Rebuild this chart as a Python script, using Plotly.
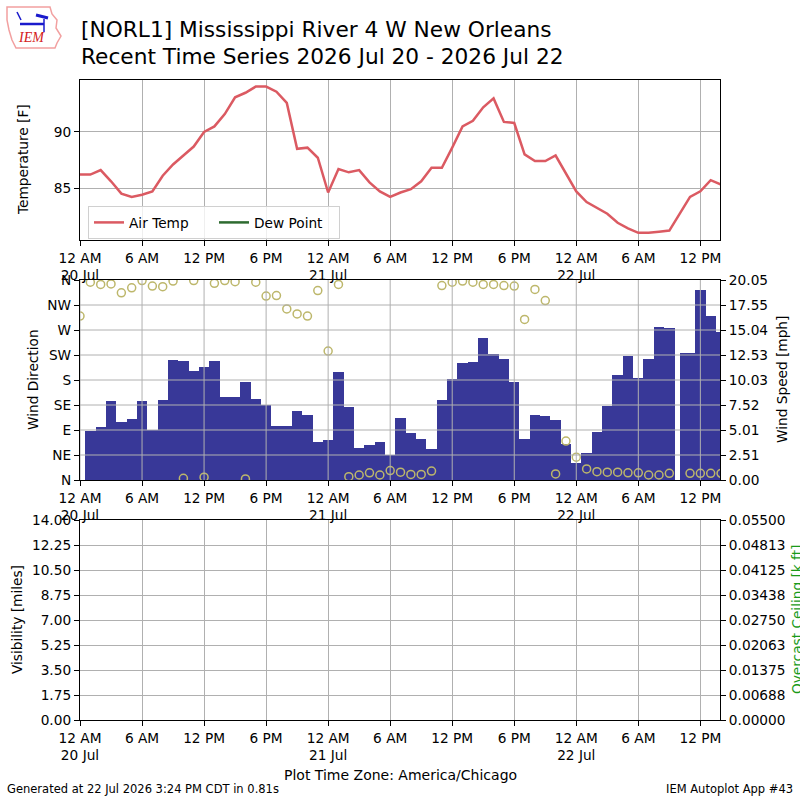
import pandas as pd
import plotly.graph_objects as go

# observation times, hours after 20 Jul 2026 00:00 (America/Chicago)
START = pd.Timestamp("2026-07-20 00:00")
END = pd.Timestamp("2026-07-22 13:54")

obs_hours = [0, 1, 2, 3, 4, 5, 6, 7, 8, 9, 10, 11, 12, 13, 14, 15, 16, 17, 18, 19,
             20, 21, 22, 23, 24, 25, 26, 27, 28, 29, 30, 31, 32, 33, 34, 35, 36, 37, 38, 39,
             40, 41, 42, 43, 44, 45, 46, 47, 48, 49, 50, 51, 52, 53, 54, 55, 56, 57, 58.5, 59,
             60, 61, 62]

air_temp = [86.2, 86.2, 86.6, 85.6, 84.5, 84.2, 84.4, 84.7, 86.1, 87.1, 87.9, 88.7, 90.0, 90.5,
            91.6, 93.1, 93.5, 94.05, 94.05, 93.6, 92.6, 88.5, 88.6, 87.7, 84.6, 86.7, 86.4, 86.6,
            85.5, 84.7, 84.2, 84.6, 84.9, 85.6, 86.8, 86.8, 88.6, 90.5, 91.0, 92.2, 93.0, 90.9,
            90.8, 88.0, 87.4, 87.4, 87.9, 86.3, 84.7, 83.75, 83.2, 82.7, 81.9, 81.4, 81.0, 81.0,
            81.1, 81.2, None, 84.2, 84.7, 85.7, 85.3]

dew_point = [None] * len(obs_hours)  # no dew point reported

wind_speed = [None, 4.95, 5.35, 7.92, 5.82, 6.12, 7.92, 4.98, 8.02, 12.03, 11.93, 10.93, 11.33,
              11.93, 8.32, 8.32, 9.83, 8.12, 7.49, 5.41, 5.41, 6.92, 6.52, 3.81, 4.01, 10.83,
              7.35, 3.21, 3.54, 3.81, 2.47, 6.25, 4.71, 4.11, 3.11, 8.02, 10.13, 11.73, 11.83,
              14.24, 12.63, 12.13, 9.83, 4.11, 6.52, 6.42, 6.02, 3.61, 1.74, 2.71, 4.85, 7.45,
              10.53, 12.43, 10.23, 12.13, 15.34, 15.24, 12.73, 12.73, 19.05, 16.44, 14.87]

wind_dir = [295, 356, 352, 353, 337, 346, 359, 349, 348, 358, 3, 359, 5, 354, 359, 357, 2, 356,
            331, 332, 308, 299, 295, 341, 232, 352, 6, 9, 13, 9, 17, 14, 10, 10, 16, 350, 356,
            358, 356, 352, 352, 350, 349, 289, 343, 323, 11, 70, 41, 20, 15, 14, 14, 13, 13, 9,
            9, 12, None, 12, 12, 12, 12]

visibility = []
ceiling = []

tick_hours = [0, 6, 12, 18, 24, 30, 36, 42, 48, 54, 60]
tick_text = ["12 AM<br>20 Jul", "6 AM", "12 PM", "6 PM", "12 AM<br>21 Jul", "6 AM", "12 PM",
             "6 PM", "12 AM<br>22 Jul", "6 AM", "12 PM"]

dir_ticks = [0, 45, 90, 135, 180, 225, 270, 315, 360]
dir_text = ["N", "NE", "E", "SE", "S", "SW", "W", "NW", "N"]
speed_max = 20.05
speed_text = ["0.00", "2.51", "5.01", "7.52", "10.03", "12.53", "15.04", "17.55", "20.05"]
vis_max = 14.0
vis_text = ["0.00", "1.75", "3.50", "5.25", "7.00", "8.75", "10.50", "12.25", "14.00"]
ceil_max = 0.055
ceil_text = ["0.00000", "0.00688", "0.01375", "0.02063", "0.02750", "0.03438", "0.04125",
             "0.04813", "0.05500"]

FONT = "DejaVu Sans"
GRID = "#b0b0b0"
FS = 13.7

times = [START + pd.Timedelta(hours=h) for h in obs_hours]
tick_times = [START + pd.Timedelta(hours=h) for h in tick_hours]


def px(x):
    return x / 800.0


def py(y):
    return 1 - y / 800.0


fig = go.Figure()

# temperature panel
fig.add_trace(go.Scatter(x=times, y=air_temp, mode="lines", name="Air Temp",
                         line=dict(color="#db5a62", width=2.5), connectgaps=True,
                         xaxis="x", yaxis="y"))
fig.add_trace(go.Scatter(x=times, y=dew_point, mode="lines", name="Dew Point",
                         line=dict(color="#2e6b30", width=2.5), xaxis="x", yaxis="y"))

# wind panel: bars on speed axis, circles on direction axis drawn over them
fig.add_trace(go.Bar(x=times, y=wind_speed, width=3600 * 1000, marker_color="#383898",
                     marker_line_width=0, xaxis="x2", yaxis="y2", showlegend=False))
fig.add_trace(go.Scatter(x=times, y=wind_dir, mode="markers", xaxis="x2", yaxis="y3",
                         marker=dict(symbol="circle-open", size=8, color="#bdb76b",
                                     line=dict(width=1.5)),
                         showlegend=False, cliponaxis=True))

# visibility / ceiling panel (empty)
fig.add_trace(go.Scatter(x=times[:len(visibility)], y=visibility, mode="lines",
                         xaxis="x3", yaxis="y4", showlegend=False))
fig.add_trace(go.Scatter(x=times[:len(ceiling)], y=ceiling, mode="lines",
                         xaxis="x3", yaxis="y5", showlegend=False))

xcommon = dict(type="date", range=[START, END], tickvals=tick_times, ticktext=tick_text,
               ticks="outside", ticklen=5, tickcolor="black", showline=True, mirror=True,
               linecolor="black", linewidth=1.25, gridcolor=GRID, gridwidth=1,
               tickfont=dict(family=FONT, size=FS, color="black"), zeroline=False,
               domain=[px(80), px(720)], automargin=False)
ycommon = dict(ticks="outside", ticklen=5, tickcolor="black", showline=True,
               linecolor="black", linewidth=1.25, gridcolor=GRID, gridwidth=1,
               tickfont=dict(family=FONT, size=FS, color="black"), zeroline=False,
               automargin=False)

fig.update_layout(
    xaxis=dict(xcommon, anchor="y"),
    xaxis2=dict(xcommon, anchor="y2", showgrid=False),
    xaxis3=dict(xcommon, anchor="y4"),
    yaxis=dict(ycommon, domain=[py(240), py(80)], range=[80.36, 94.64],
               tickvals=[85, 90], mirror=True),
    yaxis2=dict(ycommon, domain=[py(480), py(280)], anchor="x2", side="right",
                range=[0, speed_max], showgrid=False,
                tickvals=[speed_max * i / 8 for i in range(9)], ticktext=speed_text),
    yaxis3=dict(ycommon, overlaying="y2", anchor="x2", side="left", range=[0, 360],
                showgrid=False, tickvals=dir_ticks, ticktext=dir_text),
    yaxis4=dict(ycommon, domain=[py(720), py(520)], anchor="x3", side="left",
                range=[0, vis_max], tickvals=[vis_max * i / 8 for i in range(9)],
                ticktext=vis_text),
    yaxis5=dict(ycommon, overlaying="y4", anchor="x3", side="right", range=[0, ceil_max],
                showgrid=False, tickvals=[ceil_max * i / 8 for i in range(9)],
                ticktext=ceil_text),
)

# grid of the wind panel drawn above the bars
shapes = []
for t in tick_times:
    shapes.append(dict(type="line", xref="x2", yref="y2 domain", x0=t, x1=t, y0=0, y1=1,
                       line=dict(color=GRID, width=1), layer="above"))
for d in dir_ticks[1:-1]:
    shapes.append(dict(type="line", xref="x2 domain", yref="y3", x0=0, x1=1, y0=d, y1=d,
                       line=dict(color=GRID, width=1), layer="above"))

# rough IEM logo outline
iowa = [(7, 7), (50, 7), (52, 14), (57, 20), (56, 28), (61, 36), (57, 43), (55, 48), (16, 48),
        (12, 40), (9, 30), (7, 20)]
path = "M " + " L ".join(f"{px(x)},{py(y)}" for x, y in iowa) + " Z"
shapes.append(dict(type="path", xref="paper", yref="paper", path=path,
                   line=dict(color="#f2a0a0", width=1.5)))
shapes.append(dict(type="line", xref="paper", yref="paper", x0=px(20), x1=px(44),
                   y0=py(24), y1=py(24), line=dict(color="#1a1acc", width=2.5)))
shapes.append(dict(type="line", xref="paper", yref="paper", x0=px(36), x1=px(48),
                   y0=py(15), y1=py(18), line=dict(color="#1a1acc", width=3)))
shapes.append(dict(type="line", xref="paper", yref="paper", x0=px(17), x1=px(21),
                   y0=py(12), y1=py(20), line=dict(color="#1a1acc", width=1.5)))
shapes.append(dict(type="line", xref="paper", yref="paper", x0=px(44), x1=px(44),
                   y0=py(19), y1=py(32), line=dict(color="#1a1acc", width=1.5)))

ann = []


def text(x, y, s, size=FS, family=FONT, color="black", angle=0, xanchor="center"):
    ann.append(dict(x=px(x), y=py(y), xref="paper", yref="paper", text=s, showarrow=False,
                    font=dict(family=family, size=size, color=color), textangle=angle,
                    xanchor=xanchor, yanchor="middle"))


text(79, 29, "[NORL1] Mississippi River 4 W New Orleans", size=21.7, xanchor="left")
text(79, 56, "Recent Time Series 2026 Jul 20 - 2026 Jul 22", size=21.7, xanchor="left")
text(31, 38, "<i>IEM</i>", size=14, family="Liberation Serif", color="#d42020")

text(23, 160, "Temperature [F]", angle=-90)
text(33, 380, "Wind Direction", angle=-90)
text(782, 380, "Wind Speed [mph]", angle=-90)
text(17, 620, "Visibility [miles]", angle=-90)
text(797, 620, "Overcast Ceiling [k ft]", color="#1a9a1a", angle=-90)

text(400, 775, "Plot Time Zone: America/Chicago", size=14)
text(5, 789, "Generated at 22 Jul 2026 3:24 PM CDT in 0.81s", size=11.5, xanchor="left")
text(795, 789, "IEM Autoplot App #43", size=11.5, xanchor="right")

fig.update_layout(
    width=800, height=800, autosize=False,
    margin=dict(l=0, r=0, t=0, b=0, autoexpand=False),
    paper_bgcolor="white", plot_bgcolor="white",
    font=dict(family=FONT, size=FS, color="black"),
    shapes=shapes, annotations=ann, bargap=0,
    legend=dict(orientation="h", x=px(88), y=py(206), xanchor="left", yanchor="top",
                bgcolor="rgba(255,255,255,0.8)", bordercolor="#d0d0d0", borderwidth=1,
                font=dict(family=FONT, size=FS, color="black"), itemwidth=30,
                entrywidth=80, entrywidthmode="pixels"),
)

fig.write_html("out.html", config={"displayModeBar": False},
               post_script="document.body.style.margin = '0px';")
